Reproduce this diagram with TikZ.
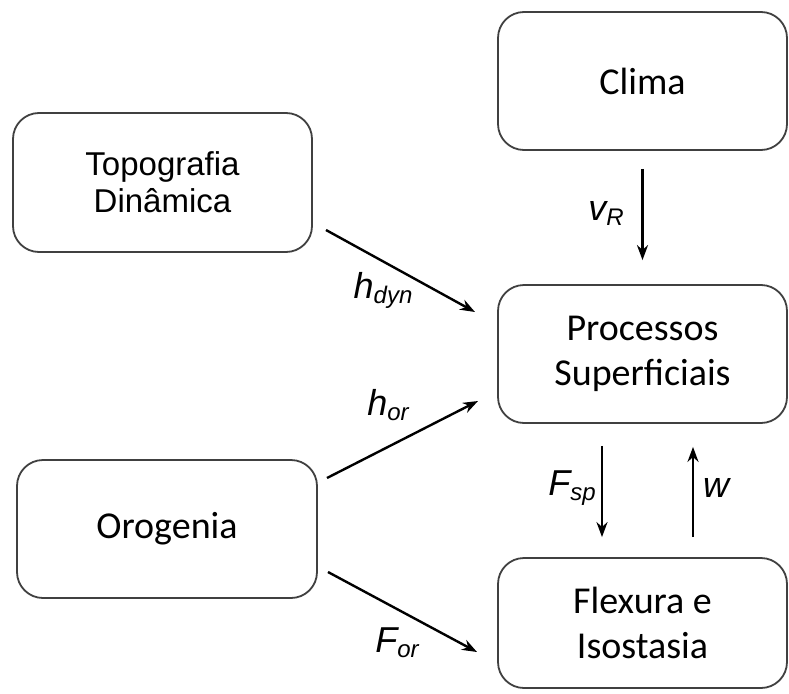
\documentclass[tikz,border=0pt]{standalone}
\usepackage{fontspec}
\setmainfont{Carlito}
\newfontfamily\arialf{Liberation Sans}
\usetikzlibrary{arrows.meta}
\newcommand\sublab[2]{{\arialf\itshape #1\raisebox{-5pt}{\fontsize{24}{24}\selectfont #2}}}
\tikzset{
  box/.style={draw=black!75, line width=1.8pt, rounded corners=26pt, align=center,
    minimum width=289pt, minimum height=138pt, inner sep=0pt,
    font=\fontsize{38}{45}\selectfont},
  arr/.style={line width=2.4pt, -{Stealth[length=15pt,width=11pt]}},
  lab/.style={inner sep=0pt, font=\fontsize{36}{36}\selectfont}
}
\begin{document}
\begin{tikzpicture}[x=1pt,y=-1pt]
\useasboundingbox (0,0) rectangle (789,693);
\node[box] (clima) at (642.5,81) {Clima};
\node[box, minimum width=299pt, minimum height=139pt, font=\arialf\fontsize{33}{37}\selectfont] (topo) at (162.5,182.5) {Topografia\\Din\^amica};
\node[box] (proc) at (642.5,354) {Processos\\Superficiais};
\node[box, minimum width=300pt] (orog) at (167,529) {Orogenia};
\node[box, minimum height=130pt] (flex) at (642.5,623) {Flexura e\\Isostasia};

\coordinate (hds) at (326,230);
\coordinate (hde) at (475,312);
\coordinate (hos) at (327,478);
\coordinate (hoe) at (478,401);
\coordinate (fos) at (328,572);
\coordinate (foe) at (477,652);

\draw[arr] (hds) -- (hde);
\draw[arr] (hos) -- (hoe);
\draw[arr] (fos) -- (foe);
\draw[arr, shorten <=18pt, shorten >=24pt] (clima.south) -- (proc.north);
\draw[arr, shorten <=22pt, shorten >=20pt] ([xshift=-40.5pt]proc.south) -- ([xshift=-40.5pt]flex.north);
\draw[arr, shorten <=20pt, shorten >=23pt] ([xshift=50.5pt]flex.north) -- ([xshift=50.5pt]proc.south);

\node[lab] (lvr) at (606,213) {\sublab{v}{R}};
\node[lab] (lhd) at (383,290) {\sublab{h}{dyn}};
\node[lab] (lho) at (388,405) {\sublab{h}{or}};
\node[lab] (lfsp) at (572,488) {\sublab{F}{sp}};
\node[lab] (lw) at (716,488) {{\arialf\itshape w}};
\node[lab] (lfo) at (397,643) {\sublab{F}{or}};
\end{tikzpicture}
\end{document}
